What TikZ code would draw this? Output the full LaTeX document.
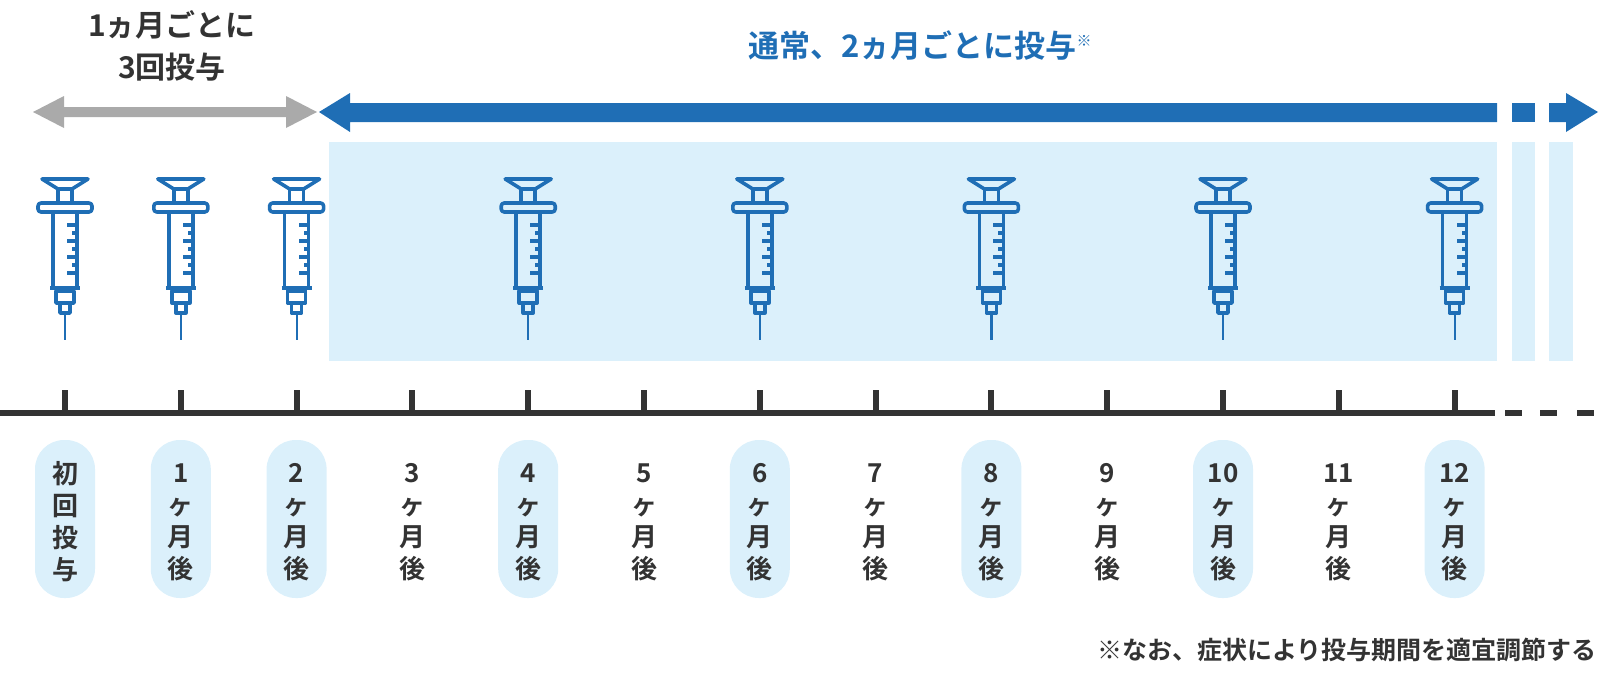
\documentclass[tikz,border=0pt]{standalone}
\usepackage{fontspec}
\setmainfont{Noto Sans CJK JP Bold}
\definecolor{myblue}{HTML}{1F6EB5}
\definecolor{lblue}{HTML}{DBF0FB}
\definecolor{dgray}{HTML}{333333}
\definecolor{mgray}{HTML}{AAAAAA}
\tikzset{
  syr/.pic={
    \begin{scope}[draw=myblue,line width=3.6pt,line join=round]
      \draw (-23,179) -- (23,179) -- (7,189) -- (-7,189) -- cycle;
      \draw (-7,189) rectangle (7,203);
      \draw[rounded corners=3pt] (-27,203) rectangle (27,212);
      \draw (-12,212) rectangle (12,288);
      \foreach \yy/\ll in {225/10,233/5,241/10,249/5,257/10,265/5,273/10}{\draw (12,\yy) -- (12-\ll,\yy);}
      \draw (-15,288) -- (15,288);
      \draw (-9,291) rectangle (9,303);
      \draw (-5,303) rectangle (5,313);
      \draw[line width=2.2pt] (0,313) -- (0,340);
    \end{scope}
  },
  pill/.style={fill=lblue,rounded corners=29pt,minimum width=60pt,minimum height=158pt},
  lab/.style={font=\fontsize{26}{32}\selectfont,text=dgray,align=center,inner sep=0pt},
  ttl/.style={font=\fontsize{30}{42}\selectfont,align=center,inner sep=0pt}
}
\begin{document}
\begin{tikzpicture}[x=1pt,y=-1pt]
\useasboundingbox (0,0) rectangle (1600,680);
% light blue panel
\fill[lblue] (329,142) rectangle (1497,361);
\fill[lblue] (1512,142) rectangle (1535,361);
\fill[lblue] (1549,142) rectangle (1573,361);
% gray arrow
\fill[mgray] (33,112) -- (64,96) -- (64,107) -- (286,107) -- (286,96) -- (317,112) -- (286,128) -- (286,117) -- (64,117) -- (64,128) -- cycle;
% blue arrow
\fill[myblue] (319,112) -- (350,93) -- (350,103) -- (1497,103) -- (1497,122) -- (350,122) -- (350,132) -- cycle;
\fill[myblue] (1512,103) rectangle (1535,122);
\fill[myblue] (1549,103) -- (1566,103) -- (1566,93) -- (1598,112) -- (1566,132) -- (1566,122) -- (1549,122) -- cycle;
% titles
\node[ttl,text=dgray] (t1) at (172,46) {1ヵ月ごとに\\3回投与};
\node[ttl,text=myblue,font=\fontsize{31}{40}\selectfont] (t2) at (920,46) {通常、2ヵ月ごとに投与\raisebox{0.7ex}{\fontsize{15}{15}\selectfont ※}};
% axis
\draw[dgray,line width=6pt] (0,413) -- (1495,413);
\foreach \xx in {1505,1540,1577}{\draw[dgray,line width=6pt] (\xx,413) -- (\xx+17,413);}
% ticks, pills, labels
\foreach \i/\t/\p in {0/初\\回\\投\\与/1,1/1\\ヶ\\月\\後/1,2/2\\ヶ\\月\\後/1,3/3\\ヶ\\月\\後/0,4/4\\ヶ\\月\\後/1,5/5\\ヶ\\月\\後/0,6/6\\ヶ\\月\\後/1,7/7\\ヶ\\月\\後/0,8/8\\ヶ\\月\\後/1,9/9\\ヶ\\月\\後/0,10/10\\ヶ\\月\\後/1,11/11\\ヶ\\月\\後/0,12/12\\ヶ\\月\\後/1}{
  \pgfmathsetmacro{\xc}{65+115.8*\i}
  \draw[dgray,line width=6pt] (\xc,390) -- (\xc,413);
  \ifnum\p=1
    \node[pill] (p\i) at (\xc,519) {};
    \pic at (\xc,0) {syr};
  \fi
  \node[lab] (l\i) at (\xc,522) {\t};
}
\node[anchor=east,inner sep=0pt,font=\fontsize{25}{28}\selectfont,text=dgray] (fn) at (1597,650) {※なお、症状により投与期間を適宜調節する};
\end{tikzpicture}
\end{document}
